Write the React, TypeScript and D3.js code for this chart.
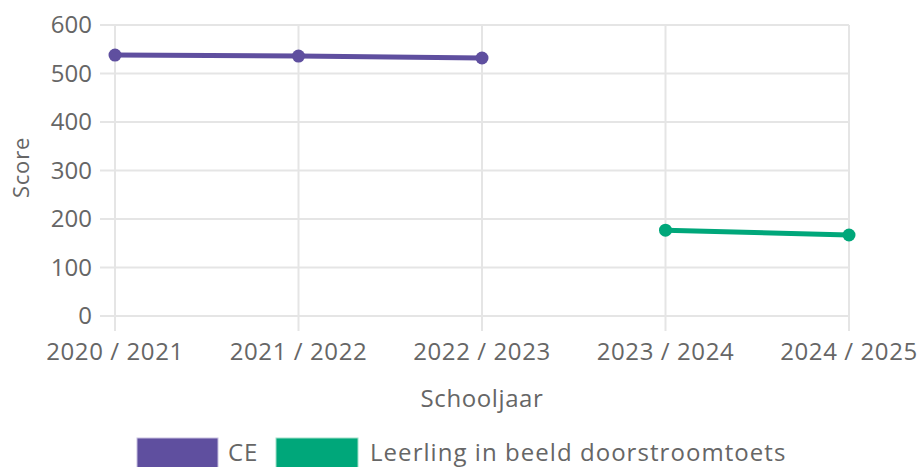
import React from "react";
import * as d3 from "d3";

const categories = ["2020 / 2021", "2021 / 2022", "2022 / 2023", "2023 / 2024", "2024 / 2025"];
const ceValues: (number | null)[] = [538, 536, 532, null, null];
const libValues: (number | null)[] = [null, null, null, 177, 167];
const yTicks = [0, 100, 200, 300, 400, 500, 600];
const seriesNames = ["CE", "Leerling in beeld doorstroomtoets"];
const seriesColors = ["#5f4f9f", "#00a77a"];

const W = 922;
const H = 467;
const left = 115;
const right = 849;
const top = 25;
const bottom = 316;
const FONT = "'Open Sans', sans-serif";
const TXT = "#666";
const GRID = "#e5e5e5";

export default function App() {
  const x = d3.scalePoint<string>().domain(categories).range([left, right]);
  const y = d3.scaleLinear().domain([0, 600]).range([bottom, top]);
  const line = d3
    .line<number | null>()
    .defined((d) => d !== null)
    .x((_, i) => x(categories[i])!)
    .y((d) => y(d as number));
  const series = [ceValues, libValues];

  return (
    <svg width={W} height={H} style={{ position: "fixed", left: 0, top: 0, background: "#fff" }} fontFamily={FONT}>
      {yTicks.map((t) => (
        <g key={t}>
          <line x1={left - 15} x2={right} y1={y(t)} y2={y(t)} stroke={GRID} strokeWidth={2} />
          <text x={92} y={y(t)} dy="0.35em" textAnchor="end" fontSize={24} fill={TXT}>
            {t}
          </text>
        </g>
      ))}
      {categories.map((c) => (
        <g key={c}>
          <line x1={x(c)} x2={x(c)} y1={top} y2={bottom + 15} stroke={GRID} strokeWidth={2} />
          <text x={x(c)} y={360} textAnchor="middle" fontSize={24} fill={TXT} letterSpacing={0.6}>
            {c}
          </text>
        </g>
      ))}
      <text
        transform={`translate(29, ${(top + bottom) / 2 - 3}) rotate(-90)`}
        textAnchor="middle"
        fontSize={22}
        fill={TXT}
        letterSpacing={0.8}
      >
        Score
      </text>
      <text x={(left + right) / 2} y={407} textAnchor="middle" fontSize={24} fill={TXT} letterSpacing={0.6}>
        Schooljaar
      </text>
      {series.map((s, si) => (
        <g key={si}>
          <path d={line(s) || ""} fill="none" stroke={seriesColors[si]} strokeWidth={5} />
          {s.map((v, i) =>
            v === null ? null : (
              <circle key={i} cx={x(categories[i])} cy={y(v)} r={6.5} fill={seriesColors[si]} />
            )
          )}
        </g>
      ))}
      <g>
        <rect x={137} y={438} width={81} height={32} fill={seriesColors[0]} stroke="#c8c0e0" strokeWidth={1} />
        <text x={228} y={461} fontSize={24} fill={TXT} letterSpacing={0.8}>
          {seriesNames[0]}
        </text>
        <rect x={276} y={438} width={82} height={32} fill={seriesColors[1]} stroke="#a0e0c8" strokeWidth={1} />
        <text x={370} y={461} fontSize={24} fill={TXT} letterSpacing={1.05}>
          {seriesNames[1]}
        </text>
      </g>
    </svg>
  );
}
